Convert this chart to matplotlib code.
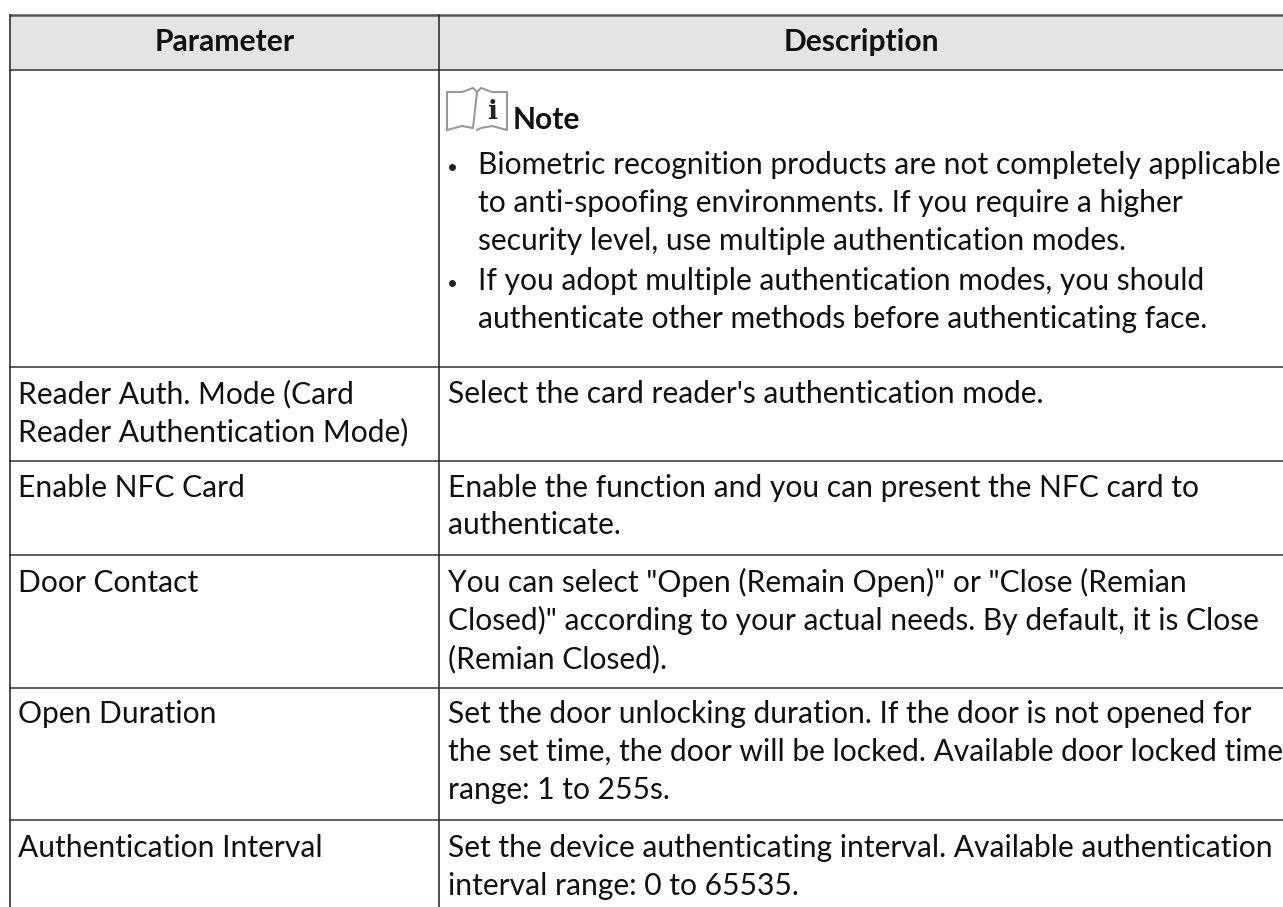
"""Redraw the parameter table from the manual page."""
import matplotlib
matplotlib.use('Agg')
import matplotlib.pyplot as plt
from matplotlib.patches import Rectangle

WIDTH, HEIGHT = 1283, 907
FONT = ['Lato', 'DejaVu Sans']
SIZE = 21.6

headers = ['Parameter', 'Description']
row_lines = [70, 367, 461, 555, 688, 820]
parameters = [
    (403, 'Reader Auth. Mode (Card'),
    (441, 'Reader Authentication Mode)'),
    (497, 'Enable NFC Card'),
    (592, 'Door Contact'),
    (723, 'Open Duration'),
    (857, 'Authentication Interval'),
]
descriptions = [
    (403, 'Select the card reader\'s authentication mode.'),
    (497, 'Enable the function and you can present the NFC card to'),
    (534, 'authenticate.'),
    (592, 'You can select "Open (Remain Open)" or "Close (Remian'),
    (630, 'Closed)" according to your actual needs. By default, it is Close'),
    (668, '(Remian Closed).'),
    (723, 'Set the door unlocking duration. If the door is not opened for'),
    (761, 'the set time, the door will be locked. Available door locked time'),
    (799, 'range: 1 to 255s.'),
    (857, 'Set the device authenticating interval. Available authentication'),
    (895, 'interval range: 0 to 65535.'),
]
note_lines = [
    (174, 'Biometric recognition products are not completely applicable'),
    (212, 'to anti-spoofing environments. If you require a higher'),
    (250, 'security level, use multiple authentication modes.'),
    (290, 'If you adopt multiple authentication modes, you should'),
    (328, 'authenticate other methods before authenticating face.'),
]
bullets = [174, 290]


def main() -> None:
    fig = plt.figure(figsize=(WIDTH / 100, HEIGHT / 100), dpi=100)
    ax = fig.add_axes([0, 0, 1, 1])
    ax.set_xlim(0, WIDTH)
    ax.set_ylim(HEIGHT, 0)
    ax.axis('off')

    ax.add_patch(Rectangle((10, 15), WIDTH - 10, 55, fc='#e4e4e4', ec='none'))
    ax.plot([10, WIDTH], [15, 15], color='#555555', lw=1.8)
    for y in row_lines:
        ax.plot([10, WIDTH], [y, y], color='#333333', lw=1.1)
    for x in (10, 438.5):
        ax.plot([x, x], [15, HEIGHT], color='#222222', lw=1.1)

    ax.text(224.5, 51, headers[0], fontsize=SIZE, fontweight='bold',
            family=FONT, ha='center', va='baseline', color='#111111')
    ax.text(861, 51, headers[1], fontsize=SIZE, fontweight='bold',
            family=FONT, ha='center', va='baseline', color='#111111')

    for y, line in parameters:
        ax.text(18, y, line, fontsize=SIZE, family=FONT, va='baseline', color='#111111')
    for y, line in descriptions:
        ax.text(448, y, line, fontsize=SIZE, family=FONT, va='baseline', color='#111111')
    for y, line in note_lines:
        ax.text(478, y, line, fontsize=SIZE, family=FONT, va='baseline', color='#111111')
    for y in bullets:
        ax.plot([452], [y - 7.5], marker='o', ms=4, color='#222222')

    # note icon, an open book with an i on the right page
    ax.plot([447, 447, 462, 473, 477, 473, 462, 447],
            [130, 92, 92, 88, 92, 128, 126, 130], color='#999999', lw=1.5)
    ax.plot([477, 481, 492, 507, 507, 492, 481, 477],
            [92, 88, 92, 92, 130, 126, 128, 130], color='#999999', lw=1.5)
    ax.text(492, 119, 'i', fontsize=19, fontweight='bold', family='DejaVu Serif',
            ha='center', va='baseline', color='#222222')
    ax.text(513, 129, 'Note', fontsize=SIZE, fontweight='bold', family=FONT,
            va='baseline', color='#111111')

    fig.savefig('out.png', dpi=100)


main()
